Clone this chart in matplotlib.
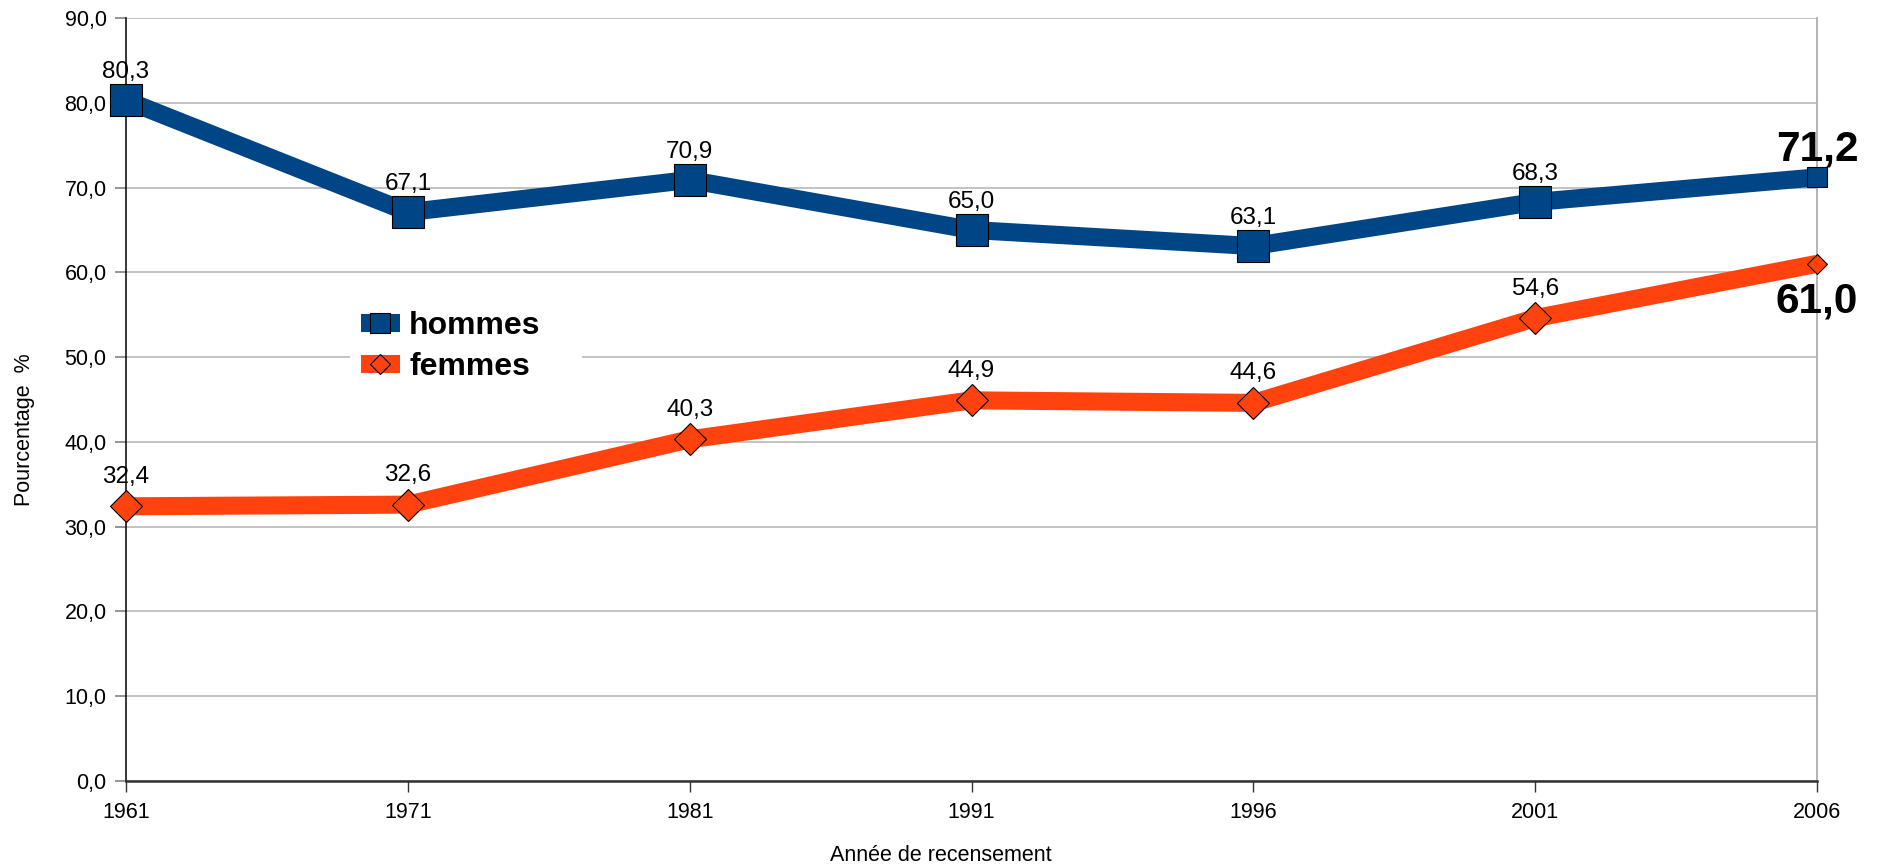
import numpy as np
import matplotlib
matplotlib.use("Agg")
import matplotlib.pyplot as plt
from matplotlib.lines import Line2D
from matplotlib.patches import Rectangle

plt.rcParams['font.family'] = ['Liberation Sans', 'DejaVu Sans']

years = ['1961', '1971', '1981', '1991', '1996', '2001', '2006']
hommes = [80.3, 67.1, 70.9, 65.0, 63.1, 68.3, 71.2]
femmes = [32.4, 32.6, 40.3, 44.9, 44.6, 54.6, 61.0]
y_ticks = [0, 10, 20, 30, 40, 50, 60, 70, 80, 90]

BLUE = '#004586'
ORANGE = '#ff420e'
GRID = '#b3b3b3'


def fr(v):
    return f"{v:.1f}".replace('.', ',')


W, H = 1879, 867
fig = plt.figure(figsize=(W / 100, H / 100), dpi=100)
ax = fig.add_axes([126 / W, 86 / H, (1817 - 126) / W, (781 - 18) / H])

x = np.arange(len(years))

# thick series lines
ax.plot(x, femmes, color=ORANGE, lw=13, solid_capstyle='butt', zorder=3, clip_on=False)
ax.plot(x, hommes, color=BLUE, lw=13, solid_capstyle='butt', zorder=3, clip_on=False)

# markers: large on all points but the last one
ax.plot(x[:-1], femmes[:-1], ls='none', marker='D', ms=16.3, mfc=ORANGE, mec='black', mew=0.8,
        zorder=4, clip_on=False)
ax.plot(x[-1:], femmes[-1:], ls='none', marker='D', ms=10.5, mfc=ORANGE, mec='black', mew=0.8,
        zorder=4, clip_on=False)
ax.plot(x[:-1], hommes[:-1], ls='none', marker='s', ms=22.8, mfc=BLUE, mec='black', mew=0.8,
        zorder=5, clip_on=False)
ax.plot(x[-1:], hommes[-1:], ls='none', marker='s', ms=14.4, mfc=BLUE, mec='black', mew=0.8,
        zorder=5, clip_on=False)

# value labels
for xi, v in zip(x[:-1], hommes[:-1]):
    ax.annotate(fr(v), (xi, v), xytext=(0, 16), textcoords='offset points',
                ha='center', va='baseline', fontsize=17.5, zorder=6)
for xi, v in zip(x[:-1], femmes[:-1]):
    ax.annotate(fr(v), (xi, v), xytext=(0, 17), textcoords='offset points',
                ha='center', va='baseline', fontsize=17.5, zorder=6)
ax.annotate(fr(hommes[-1]), (x[-1], hommes[-1]), xytext=(0, 12), textcoords='offset points',
            ha='center', va='baseline', fontsize=30.5, fontweight='bold', annotation_clip=False)
ax.annotate(fr(femmes[-1]), (x[-1], femmes[-1]), xytext=(0, -35), textcoords='offset points',
            ha='center', va='baseline', fontsize=30.5, fontweight='bold', annotation_clip=False)

ax.set_xlim(0, len(years) - 1)
ax.set_ylim(0, 90)
ax.set_xticks(x)
ax.set_xticklabels(years)
ax.set_yticks(y_ticks)
ax.set_yticklabels([fr(t) for t in y_ticks])

ax.grid(axis='y', color=GRID, lw=1.1, zorder=0)
ax.set_axisbelow(True)

ax.spines['top'].set_visible(False)
ax.spines['left'].set_color('black')
ax.spines['left'].set_linewidth(1.1)
ax.spines['bottom'].set_color('#333333')
ax.spines['bottom'].set_linewidth(1.8)
ax.spines['right'].set_color(GRID)
ax.spines['right'].set_linewidth(1.4)

ax.tick_params(axis='y', length=8, width=1.1, color='#777777', labelsize=15.5, pad=6)
ax.tick_params(axis='x', length=8, width=1.0, color='#333333', labelsize=15.5, pad=7)

ax.set_ylabel('Pourcentage  %', fontsize=15.5)
ax.set_xlabel('Année de recensement', fontsize=15.5)
ax.yaxis.set_label_coords(-0.0538, 0.46)
ax.xaxis.set_label_coords(0.482, -0.084)

# white backing behind the legend
ax.add_patch(Rectangle((350 / W, 1 - 392 / H), (582 - 350) / W, (392 - 292) / H,
                       transform=fig.transFigure, facecolor='white', edgecolor='none', zorder=1))

handles = [
    Line2D([], [], color=BLUE, lw=13, solid_capstyle='butt', marker='s', ms=15,
           mfc=BLUE, mec='black', mew=0.8),
    Line2D([], [], color=ORANGE, lw=13, solid_capstyle='butt', marker='D', ms=10.5,
           mfc=ORANGE, mec='black', mew=0.8),
]
leg = ax.legend(handles, ['hommes', 'femmes'], loc='upper left',
                bbox_to_anchor=(350 / W, 1 - 300 / H), bbox_transform=fig.transFigure,
                prop={'weight': 'bold', 'size': 23}, handlelength=1.2, handletextpad=0.3,
                labelspacing=0.34, borderpad=0.35, borderaxespad=0, frameon=False)
leg.set_zorder(2)

fig.savefig('out.png', dpi=100)
